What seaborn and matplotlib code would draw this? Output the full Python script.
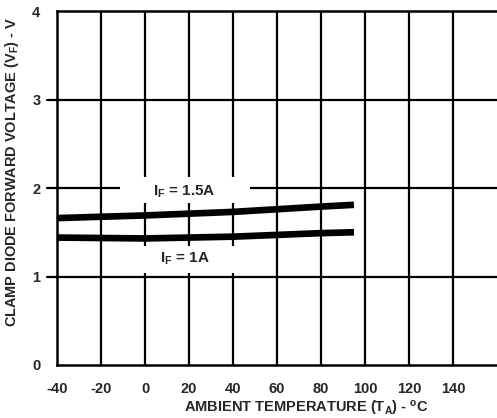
import matplotlib
matplotlib.use("Agg")
import matplotlib.pyplot as plt
from matplotlib.patches import Rectangle
from matplotlib import font_manager
import seaborn as sns
import pandas as pd

# Data
temps = [-40, -20, 0, 20, 40, 60, 80, 95]
vf_15a = [1.66, 1.675, 1.69, 1.71, 1.73, 1.76, 1.79, 1.81]
vf_1a = [1.44, 1.435, 1.43, 1.44, 1.45, 1.47, 1.49, 1.50]
x_ticks = [-40, -20, 0, 20, 40, 60, 80, 100, 120, 140]
y_ticks = [0, 1, 2, 3, 4]
series_labels = ["I$_\\mathbf{F}$ = 1.5A", "I$_\\mathbf{F}$ = 1A"]
x_title = "AMBIENT TEMPERATURE (T$_\\mathbf{A}$) - $^\\mathbf{o}$C"
y_title = "CLAMP DIODE FORWARD VOLTAGE (V$_\\mathbf{F}$) - V"

sns.set_style("white")
plt.rcParams["font.family"] = ["Liberation Sans", "DejaVu Sans"]
plt.rcParams["font.weight"] = "bold"
plt.rcParams["mathtext.fontset"] = "custom"
plt.rcParams["mathtext.rm"] = "Liberation Sans:bold"
plt.rcParams["mathtext.bf"] = "Liberation Sans:bold"
plt.rcParams["mathtext.it"] = "Liberation Sans:bold"
plt.rcParams["mathtext.default"] = "bf"

names = {f.name for f in font_manager.fontManager.ttflist}
ylab_family = ["Liberation Sans Narrow", "Liberation Sans"] if "Liberation Sans Narrow" in names else ["Liberation Sans", "DejaVu Sans"]

df = pd.concat([
    pd.DataFrame({"T": temps, "V": vf_15a, "s": "1.5A"}),
    pd.DataFrame({"T": temps, "V": vf_1a, "s": "1A"}),
])

fig = plt.figure(figsize=(4.97, 4.18), dpi=100)
ax = fig.add_axes([57 / 497, 53 / 418, 1 - 57 / 497, 354 / 418])

ax.set_xlim(-40, 160)
ax.set_ylim(0, 4)

# grid
for xv in x_ticks[1:]:
    ax.axvline(xv, color="black", lw=1.6, zorder=1)
for yv in [1, 2, 3]:
    ax.axhline(yv, color="black", lw=1.6, zorder=1)

# white boxes behind labels
ax.add_patch(Rectangle((-11.5, 1.83), 59, 0.29, facecolor="white", edgecolor="none", zorder=2))
ax.add_patch(Rectangle((-8, 1.04), 56, 0.31, facecolor="white", edgecolor="none", zorder=2))

sns.lineplot(data=df, x="T", y="V", units="s", estimator=None, color="black",
             lw=4.8, ax=ax, zorder=3, legend=False, solid_capstyle="butt")

ax.text(18, 1.955, series_labels[0], ha="center", va="center", fontsize=11, fontweight="bold", zorder=4)
ax.text(18, 1.205, series_labels[1], ha="center", va="center", fontsize=11, fontweight="bold", zorder=4)

ax.set_xticks(x_ticks)
ax.set_xticklabels([str(v) for v in x_ticks], fontsize=10.5, fontweight="bold")
ax.set_yticks(y_ticks)
ax.set_yticklabels([str(v) for v in y_ticks], fontsize=10.5, fontweight="bold")
ax.tick_params(axis="x", length=0, pad=12)
ax.tick_params(axis="y", length=0, pad=12)
for yv in [1, 2, 3]:
    ax.plot([-44.5, -40], [yv, yv], color="black", lw=1.6, clip_on=False, zorder=1)

for side in ["left", "bottom", "top"]:
    ax.spines[side].set_visible(True)
    ax.spines[side].set_color("black")
    ax.spines[side].set_linewidth(1.8)
ax.spines["right"].set_visible(False)

ax.set_xlabel(x_title, fontsize=10.5, fontweight="bold", labelpad=2)
ax.xaxis.set_label_coords((306 - 57) / 440, -0.095)
ax.set_ylabel("")

# y label: fit to ~310 px length
ylab = fig.text(12 / 497, 1 - 172 / 418, y_title, rotation=90, ha="center", va="center",
                fontsize=10.5, fontweight="bold", family=ylab_family)
fig.canvas.draw()
r = fig.canvas.get_renderer()
h = ylab.get_window_extent(r).height
ylab.set_fontsize(10.5 * 310 / h)

fig.savefig("out.png", dpi=100)
